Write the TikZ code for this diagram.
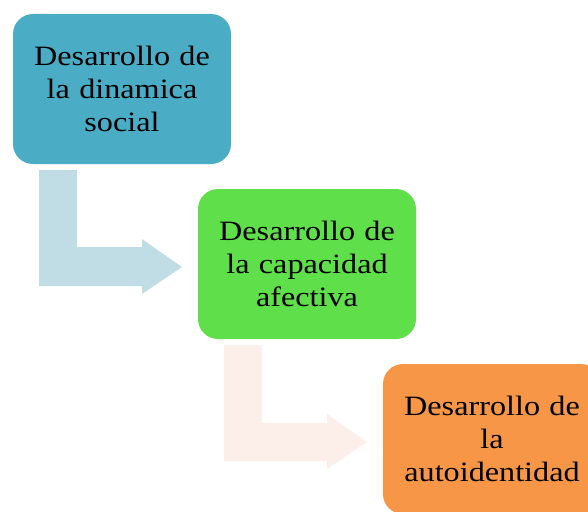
\documentclass[tikz,border=0pt]{standalone}
\usepackage{fontspec}
\setmainfont{Liberation Serif}[FakeStretch=1.15]
\definecolor{cBlue}{HTML}{4BACC6}
\definecolor{cGreen}{HTML}{5FE04B}
\definecolor{cOrange}{HTML}{F79646}
\definecolor{cArrowA}{HTML}{C0DCE4}
\definecolor{cArrowB}{HTML}{FCEEE9}
\tikzset{
  stagebox/.style={rounded corners=20pt, minimum width=218pt, minimum height=150pt,
    inner sep=0pt, align=center, text width=200pt,
    font=\fontsize{28}{33}\selectfont},
  bentarrow/.style={draw=none}
}
\begin{document}
\begin{tikzpicture}[x=1pt,y=-1pt]
\useasboundingbox (0,0) rectangle (588,511);
\clip (0,0) rectangle (588,511);
\node[stagebox, fill=cBlue] (a) at (122,89) {Desarrollo de\\la dinamica\\social};
\node[stagebox, fill=cGreen] (b) at (307,264) {Desarrollo de\\la capacidad\\afectiva};
\node[stagebox, fill=cOrange] (c) at (492,439) {Desarrollo de\\la\\autoidentidad};
\fill[cArrowA, bentarrow] (39,170) -- (77,170) -- (77,247) -- (142,247) -- (142,239) -- (182,267) -- (142,294) -- (142,286) -- (39,286) -- cycle;
\fill[cArrowB, bentarrow] (224,345) -- (262,345) -- (262,423) -- (327,423) -- (327,414) -- (367,442) -- (327,469) -- (327,461) -- (224,461) -- cycle;
\end{tikzpicture}
\end{document}
